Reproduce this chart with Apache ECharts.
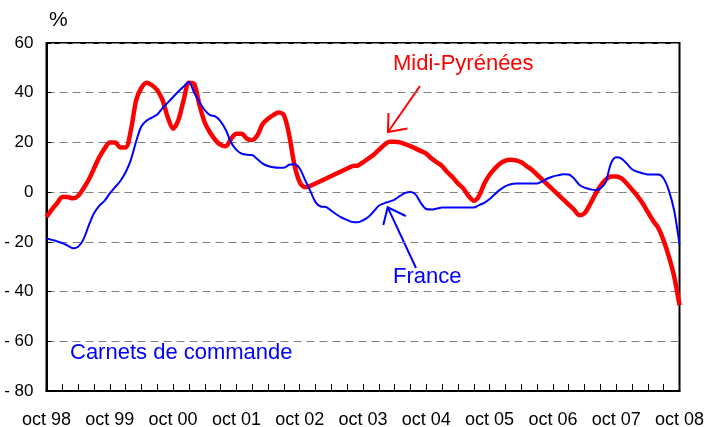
<!DOCTYPE html>
<html>
<head>
<meta charset="utf-8">
<script src="https://cdn.jsdelivr.net/npm/echarts@6/dist/echarts.min.js"></script>
<style>
  html, body { margin: 0; padding: 0; background: #fff; }
  #chart { width: 708px; height: 427px; }
</style>
</head>
<body>
<div id="chart"></div>
<script>
// years shown on the x axis (one label every october)
const yearLabels = ['oct 98', 'oct 99', 'oct 00', 'oct 01', 'oct 02', 'oct 03',
  'oct 04', 'oct 05', 'oct 06', 'oct 07', 'oct 08']
const monthNames = ['oct', 'nov', 'dec', 'jan', 'feb', 'mar', 'apr', 'may', 'jun', 'jul', 'aug', 'sep']

const yTicks = [-80, -60, -40, -20, 0, 20, 40, 60]

// soldes d'opinion, monthly from oct 98 to oct 08
const midiPyrenees = [
  -10, -7, -4.5, -2, -2, -2.5, -1.5, 1.5, 5, 9.5, 14, 17.5,
  20, 20, 18, 18, 25, 37, 42, 44, 43, 41, 37, 30,
  25.5, 29, 37, 44, 43.5, 35, 28, 24, 21, 19, 18.5, 21.5,
  23.5, 23.5, 21.5, 21, 23, 27.5, 29.5, 31, 32, 31, 23, 11,
  4, 2, 2.5, 3.5, 4.5, 5.5, 6.5, 7.5, 8.5, 9.5, 10.5, 10.7,
  12, 13.5, 15, 17, 19, 20.3, 20.3, 20, 19.3, 18.5, 17.5, 16.5,
  15.5, 13.5, 12, 10.5, 8, 6, 3.5, 1.5, -1.5, -3.5, -1.5, 3.5,
  7, 9.5, 11.5, 12.7, 13, 12.8, 12, 10.5, 9, 7, 5, 3,
  1, -1, -3, -5, -7, -9.3, -8.5, -5, -1, 2.5, 5, 6.3,
  6.3, 5.5, 3.5, 1, -1.5, -4.5, -8, -11.5, -14.5, -19.5, -26, -34,
  -45.5
]

const france = [
  -18.6, -19.2, -19.8, -20.5, -21.5, -22.6, -22, -19, -13.5, -8.5, -5.5, -3.5,
  -0.5, 2, 4.5, 8, 13, 20.5, 26.5, 28.8, 30, 31.2, 33.8, 36,
  38.3, 40.5, 42.5, 44.3, 40, 36.3, 33, 31, 30.5, 28.5, 25, 20,
  17, 15.5, 15, 14.9, 13.2, 11.5, 10.5, 10, 9.8, 9.8, 11, 11.2,
  9.5, 5, 0.5, -4, -5.8, -6, -7.5, -9, -10.3, -11.2, -12, -12.1,
  -11.3, -10, -7.8, -5.5, -4.5, -3.8, -3, -1.5, -0.3, 0.1, -1, -4.5,
  -6.8, -7, -6.6, -6.2, -6.2, -6.2, -6.2, -6.2, -6.2, -6.2, -5.2, -4.3,
  -2.8, -0.8, 1, 2.4, 3.2, 3.5, 3.5, 3.5, 3.5, 3.5, 4.3, 5.5,
  6.3, 6.8, 7.2, 7.1, 5.5, 3, 1.8, 1.2, 0.8, 1.5, 4, 11.5,
  14, 13.5, 11.5, 9.2, 8.2, 7.6, 7.1, 7.1, 7.1, 5.5, 0.5, -7.5,
  -21
]

// one category per month, named after the year label of its october
const months = []
yearLabels.forEach((yl, i) => {
  const yy = yl.slice(4)
  const last = i === yearLabels.length - 1 ? 1 : 12
  for (let k = 0; k < last; k += 1) {
    months.push(monthNames[k] + ' ' + yy)
  }
})

const labelFont = 'Arial, "Liberation Sans", sans-serif'

const option = {
  animation: false,
  grid: {
    left: 46.5,
    right: 28.5,
    top: 43,
    bottom: 36,
    outerBoundsMode: 'none',
    containLabel: false,
    show: true,
    borderColor: '#000',
    borderWidth: 2,
    backgroundColor: '#fff',
  },
  xAxis: {
    type: 'category',
    data: months,
    boundaryGap: false,
    axisLine: { onZero: false, lineStyle: { color: '#000', width: 2 } },
    axisTick: {
      inside: true,
      length: 7,
      interval: (idx) => idx % 3 === 0,
      lineStyle: { color: '#000', width: 1 },
    },
    axisLabel: {
      fontFamily: labelFont,
      fontSize: 18,
      color: '#000',
      margin: 20,
      interval: (idx) => idx % 12 === 0,
      formatter: (v) => (v.indexOf('oct') === 0 ? v : ''),
    },
    splitLine: { show: false },
  },
  yAxis: {
    type: 'value',
    min: yTicks[0],
    max: yTicks[yTicks.length - 1],
    interval: 20,
    axisLine: { show: true, lineStyle: { color: '#000', width: 2 } },
    axisTick: { show: true, inside: true, length: 5, lineStyle: { color: '#000' } },
    axisLabel: {
      fontFamily: labelFont,
      fontSize: 17,
      color: '#000',
      margin: 13,
      formatter: (v) => (v < 0 ? '- ' + Math.abs(v) : String(v)),
    },
    splitLine: {
      show: true,
      lineStyle: { color: '#808080', width: 1, type: [8, 5] },
    },
  },
  series: [
    {
      name: 'Midi-Pyrénées',
      type: 'line',
      data: midiPyrenees,
      smooth: 0.3,
      showSymbol: false,
      lineStyle: { color: '#ff0000', width: 4.5 },
      z: 2,
    },
    {
      name: 'France',
      type: 'line',
      data: france,
      smooth: 0.3,
      showSymbol: false,
      lineStyle: { color: '#0000ff', width: 2 },
      z: 3,
    },
  ],
  graphic: [
    {
      type: 'text', left: 49, top: 10,
      style: { text: '%', font: '21px ' + labelFont, fill: '#000' },
    },
    {
      type: 'text', x: 393, y: 64,
      style: { text: 'Midi-Pyrénées', font: '22px ' + labelFont, fill: '#ff0000', verticalAlign: 'middle' },
    },
    {
      type: 'polyline',
      shape: { points: [[420, 86], [388, 132]] },
      style: { stroke: '#ff0000', lineWidth: 2, fill: null },
    },
    {
      type: 'polyline',
      shape: { points: [[388.5, 113], [388, 132], [407.5, 128.5]] },
      style: { stroke: '#ff0000', lineWidth: 2, fill: null },
    },
    {
      type: 'text', x: 393, y: 277,
      style: { text: 'France', font: '22px ' + labelFont, fill: '#0000ff', verticalAlign: 'middle' },
    },
    {
      type: 'polyline',
      shape: { points: [[416, 268], [387.7, 207.3]] },
      style: { stroke: '#0000ff', lineWidth: 2, fill: null },
    },
    {
      type: 'polyline',
      shape: { points: [[383.3, 225], [387.7, 207.3], [405.7, 216]] },
      style: { stroke: '#0000ff', lineWidth: 2, fill: null },
    },
    {
      type: 'text', x: 70, y: 353,
      style: { text: 'Carnets de commande', font: '22px ' + labelFont, fill: '#0000ff', verticalAlign: 'middle' },
    },
  ],
}

const myChart = echarts.init(document.getElementById('chart'))
myChart.setOption(option)
</script>
</body>
</html>
